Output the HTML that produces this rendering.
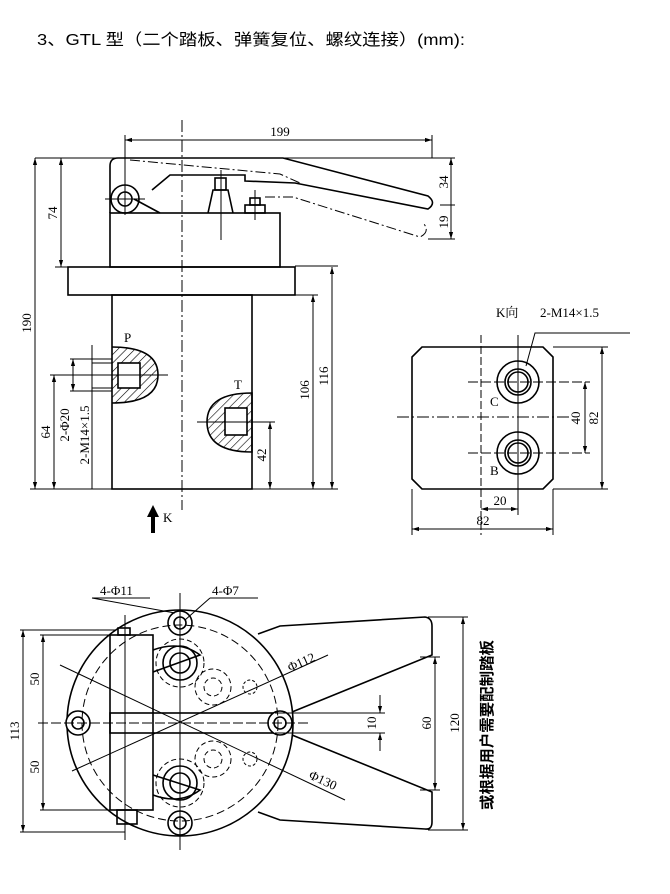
<!DOCTYPE html>
<html><head><meta charset="utf-8"><style>
html,body{margin:0;padding:0;background:#fff;}
svg{display:block;}
text{font-family:"Liberation Serif","Noto Serif CJK SC",serif;fill:#000;}
</style></head><body>
<svg width="670" height="894" viewBox="0 0 670 894" xmlns="http://www.w3.org/2000/svg">
<defs>
<marker id="a" viewBox="0 0 10 10" refX="10" refY="5" markerWidth="7" markerHeight="7" orient="auto-start-reverse"><path d="M0,2 L10,5 L0,8 z" fill="#000"/></marker>
<pattern id="h" width="6" height="6" patternUnits="userSpaceOnUse" patternTransform="rotate(45)"><line x1="0" y1="0" x2="0" y2="6" stroke="#000" stroke-width="1.2"/></pattern>
</defs>
<text x="37" y="45" style="font-family:'Liberation Sans','Noto Sans CJK SC',sans-serif" font-size="16" textLength="428" lengthAdjust="spacingAndGlyphs">3、GTL 型（二个踏板、弹簧复位、螺纹连接）(mm):</text>

<g fill="none" stroke="#000" stroke-width="1.6">
<path d="M110,213 L110,166 Q110,158 118,158 L283,158 L428,196 Q437,203 428,209 L295,183 L245,181 L245,175 L170,175 L152,190"/>
<path d="M134,199 L160,213"/>
<rect x="110" y="213" width="170" height="54"/>
<rect x="68" y="267" width="227" height="28"/>
<rect x="112" y="295" width="140" height="194"/>
<circle cx="125" cy="199" r="14"/><circle cx="125" cy="199" r="7"/>
<path d="M208,213 L213,190 L228,190 L233,213"/>
<rect x="215" y="178" width="11" height="12"/>
<rect x="245" y="205" width="20" height="8"/><rect x="250" y="198" width="10" height="7"/>
<path d="M112,347 Q158,347 158,375 Q158,403 112,403" fill="url(#h)"/>
<rect x="118" y="363" width="22" height="25" fill="#fff"/>
<path d="M207,422 Q207,393 252,393 L252,452 Q207,452 207,422" fill="url(#h)"/>
<rect x="225" y="408" width="22" height="27" fill="#fff"/>
</g>
<g fill="none" stroke="#000" stroke-width="1">
<path d="M130,160 L280,174 L300,183" stroke-dasharray="10,3,2,3"/>
<path d="M265,197 L293,197 L420,237 Q430,232 424,224" stroke-dasharray="10,3,2,3"/>
<path d="M182,120 L182,510" stroke-dasharray="12,3,2,3"/>
<line x1="125" y1="135" x2="125" y2="215"/><line x1="105" y1="199" x2="145" y2="199"/>
<line x1="221" y1="170" x2="221" y2="240"/><line x1="255" y1="190" x2="255" y2="220"/>
<line x1="35" y1="158" x2="455" y2="158"/>
<line x1="432" y1="135" x2="432" y2="158"/>
<line x1="125" y1="140" x2="432" y2="140" marker-start="url(#a)" marker-end="url(#a)"/>
<line x1="35" y1="158" x2="35" y2="489" marker-start="url(#a)" marker-end="url(#a)"/>
<line x1="30" y1="489" x2="112" y2="489"/>
<line x1="61" y1="158" x2="61" y2="267" marker-start="url(#a)" marker-end="url(#a)"/>
<line x1="55" y1="267" x2="68" y2="267"/>
<line x1="440" y1="205" x2="455" y2="205"/><line x1="428" y1="239" x2="455" y2="239"/>
<line x1="451" y1="158" x2="451" y2="239" marker-start="url(#a)" marker-end="url(#a)"/>
<line x1="295" y1="266" x2="338" y2="266"/><line x1="295" y1="295" x2="318" y2="295"/>
<line x1="252" y1="489" x2="338" y2="489"/>
<line x1="332" y1="267" x2="332" y2="489" marker-start="url(#a)" marker-end="url(#a)"/>
<line x1="313" y1="295" x2="313" y2="489" marker-start="url(#a)" marker-end="url(#a)"/>
<line x1="197" y1="422" x2="275" y2="422"/>
<line x1="270" y1="422" x2="270" y2="489" marker-start="url(#a)" marker-end="url(#a)"/>
<line x1="50" y1="375" x2="168" y2="375"/>
<line x1="54" y1="375" x2="54" y2="489" marker-start="url(#a)" marker-end="url(#a)"/>
<line x1="70" y1="359" x2="112" y2="359"/><line x1="70" y1="391" x2="112" y2="391"/>
<line x1="73" y1="359" x2="73" y2="391" marker-start="url(#a)" marker-end="url(#a)"/>
<line x1="92" y1="345" x2="92" y2="489"/>
<line x1="92" y1="363" x2="112" y2="363"/><line x1="92" y1="388" x2="112" y2="388"/>
</g>
<polygon points="153,505 147,517 151,517 151,533 155,533 155,517 159,517" fill="#000"/>
<g font-size="13">
<text x="280" y="136" text-anchor="middle">199</text>
<text x="57" y="213" transform="rotate(-90 57 213)" text-anchor="middle">74</text>
<text x="31" y="323" transform="rotate(-90 31 323)" text-anchor="middle">190</text>
<text x="448" y="182" transform="rotate(-90 448 182)" text-anchor="middle">34</text>
<text x="448" y="222" transform="rotate(-90 448 222)" text-anchor="middle">19</text>
<text x="328" y="376" transform="rotate(-90 328 376)" text-anchor="middle">116</text>
<text x="309" y="390" transform="rotate(-90 309 390)" text-anchor="middle">106</text>
<text x="266" y="455" transform="rotate(-90 266 455)" text-anchor="middle">42</text>
<text x="50" y="432" transform="rotate(-90 50 432)" text-anchor="middle">64</text>
<text x="69" y="425" transform="rotate(-90 69 425)" text-anchor="middle">2-Φ20</text>
<text x="89" y="435" transform="rotate(-90 89 435)" text-anchor="middle">2-M14×1.5</text>
<text x="124" y="342">P</text>
<text x="234" y="389">T</text>
<text x="163" y="522">K</text>
</g>

<g fill="none" stroke="#000" stroke-width="1.6">
<path d="M422,347 L543,347 L553,357 L553,479 L543,489 L422,489 L412,479 L412,357 Z"/>
<circle cx="518" cy="382" r="21"/><circle cx="518" cy="382" r="13"/><circle cx="518" cy="382" r="10"/>
<circle cx="518" cy="453" r="21"/><circle cx="518" cy="453" r="13"/><circle cx="518" cy="453" r="10"/>
</g>
<g fill="none" stroke="#000" stroke-width="1">
<line x1="397" y1="417" x2="570" y2="417" stroke-dasharray="12,3,2,3"/>
<line x1="481" y1="335" x2="481" y2="535" stroke-dasharray="8,3"/>
<line x1="518" y1="335" x2="518" y2="515"/>
<line x1="468" y1="382" x2="590" y2="382" stroke-dasharray="10,3"/>
<line x1="468" y1="453" x2="590" y2="453" stroke-dasharray="10,3"/>
<line x1="585" y1="382" x2="585" y2="453" marker-start="url(#a)" marker-end="url(#a)"/>
<line x1="553" y1="347" x2="608" y2="347"/><line x1="553" y1="489" x2="608" y2="489"/>
<line x1="602" y1="347" x2="602" y2="489" marker-start="url(#a)" marker-end="url(#a)"/>
<line x1="481" y1="509" x2="518" y2="509" marker-start="url(#a)" marker-end="url(#a)"/>
<line x1="412" y1="489" x2="412" y2="535"/><line x1="553" y1="489" x2="553" y2="535"/>
<line x1="412" y1="529" x2="553" y2="529" marker-start="url(#a)" marker-end="url(#a)"/>
<polyline points="630,333 535,333 526,366"/>
</g>
<g font-size="13">
<text x="496" y="317">K向</text>
<text x="540" y="317">2-M14×1.5</text>
<text x="490" y="406">C</text>
<text x="490" y="475">B</text>
<text x="580" y="418" transform="rotate(-90 580 418)" text-anchor="middle">40</text>
<text x="598" y="418" transform="rotate(-90 598 418)" text-anchor="middle">82</text>
<text x="500" y="505" text-anchor="middle">20</text>
<text x="483" y="525" text-anchor="middle">82</text>
</g>

<g fill="none" stroke="#000" stroke-width="1.6">
<path d="M258,634 L280,626 L425,617 Q432,618 432,626 L432,655 L292,712 M292,735 L432,792 L432,822 Q432,830 425,829 L280,820 L258,812"/>
<circle cx="180" cy="723" r="113"/>
<rect x="110" y="635" width="43" height="175" fill="#fff"/>
<path d="M153,650 Q180,640 200,655 L153,672"/>
<path d="M153,795 Q180,805 200,790 L153,775"/>
<rect x="110" y="713" width="165" height="20"/>
<circle cx="180" cy="623" r="12" fill="#fff"/><circle cx="180" cy="623" r="6"/>
<circle cx="180" cy="823" r="12" fill="#fff"/><circle cx="180" cy="823" r="6"/>
<circle cx="78" cy="723" r="12" fill="#fff"/><circle cx="78" cy="723" r="6"/>
<circle cx="280" cy="723" r="12" fill="#fff"/><circle cx="280" cy="723" r="6"/>
<circle cx="180" cy="663" r="17"/><circle cx="180" cy="663" r="10"/>
<circle cx="180" cy="783" r="17"/><circle cx="180" cy="783" r="10"/>
<rect x="117" y="810" width="20" height="14"/>
<rect x="118" y="628" width="12" height="7"/>
</g>
<g fill="none" stroke="#000" stroke-width="1">
<circle cx="180" cy="723" r="98" stroke-dasharray="8,4"/>
<circle cx="213" cy="687" r="18" stroke-dasharray="5,3"/><circle cx="213" cy="687" r="9" stroke-dasharray="5,3"/>
<circle cx="213" cy="759" r="18" stroke-dasharray="5,3"/><circle cx="213" cy="759" r="9" stroke-dasharray="5,3"/>
<circle cx="180" cy="663" r="24" stroke-dasharray="5,3"/><circle cx="180" cy="783" r="24" stroke-dasharray="5,3"/>
<circle cx="250" cy="687" r="7" stroke-dasharray="3,2"/><circle cx="250" cy="759" r="7" stroke-dasharray="3,2"/>
<line x1="180" y1="593" x2="180" y2="850"/>
<line x1="125" y1="615" x2="125" y2="840"/>
<line x1="38" y1="723" x2="310" y2="723" stroke-dasharray="10,3"/>
<line x1="60" y1="665" x2="345" y2="800"/>
<line x1="72" y1="771" x2="328" y2="655"/>
<line x1="92" y1="598" x2="175" y2="613"/><line x1="92" y1="598" x2="150" y2="598"/>
<line x1="185" y1="620" x2="210" y2="598"/><line x1="210" y1="598" x2="258" y2="598"/>
<line x1="20" y1="630" x2="115" y2="630"/><line x1="20" y1="832" x2="125" y2="832"/>
<line x1="23" y1="630" x2="23" y2="832" marker-start="url(#a)" marker-end="url(#a)"/>
<line x1="40" y1="635" x2="110" y2="635"/><line x1="40" y1="810" x2="110" y2="810"/>
<line x1="43" y1="635" x2="43" y2="810" marker-start="url(#a)" marker-end="url(#a)"/>
<line x1="275" y1="713" x2="385" y2="713"/><line x1="275" y1="733" x2="385" y2="733"/>
<line x1="380" y1="695" x2="380" y2="713" marker-end="url(#a)"/><line x1="380" y1="751" x2="380" y2="733" marker-end="url(#a)"/>
<line x1="420" y1="657" x2="440" y2="657"/><line x1="420" y1="790" x2="440" y2="790"/>
<line x1="435" y1="657" x2="435" y2="790" marker-start="url(#a)" marker-end="url(#a)"/>
<line x1="428" y1="617" x2="468" y2="617"/><line x1="428" y1="830" x2="468" y2="830"/>
<line x1="463" y1="617" x2="463" y2="830" marker-start="url(#a)" marker-end="url(#a)"/>
</g>
<g font-size="13">
<text x="100" y="595">4-Φ11</text>
<text x="212" y="595">4-Φ7</text>
<text x="290" y="672" transform="rotate(-24 290 672)">Φ112</text>
<text x="308" y="778" transform="rotate(25 308 778)">Φ130</text>
<text x="19" y="731" transform="rotate(-90 19 731)" text-anchor="middle">113</text>
<text x="39" y="679" transform="rotate(-90 39 679)" text-anchor="middle">50</text>
<text x="39" y="767" transform="rotate(-90 39 767)" text-anchor="middle">50</text>
<text x="376" y="723" transform="rotate(-90 376 723)" text-anchor="middle">10</text>
<text x="431" y="723" transform="rotate(-90 431 723)" text-anchor="middle">60</text>
<text x="459" y="723" transform="rotate(-90 459 723)" text-anchor="middle">120</text>
<text x="492" y="725" transform="rotate(-90 492 725)" text-anchor="middle" style="font-family:'Liberation Sans','Noto Sans CJK SC',sans-serif" font-size="15" font-weight="bold" textLength="170" lengthAdjust="spacingAndGlyphs">或根据用户需要配制踏板</text>
</g>
</svg>
</body></html>
